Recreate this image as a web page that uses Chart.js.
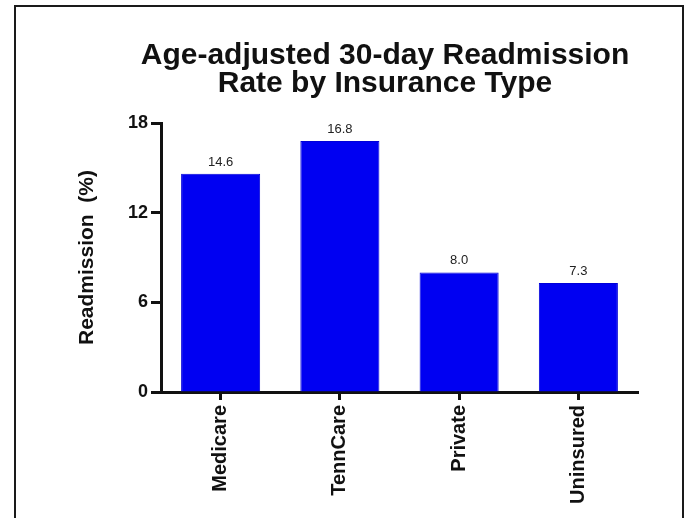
<!DOCTYPE html>
<html>
<head>
<meta charset="utf-8">
<script src="https://cdn.jsdelivr.net/npm/chart.js@4/dist/chart.umd.min.js"></script>
<style>
  html, body { margin: 0; padding: 0; background: #ffffff; }
  #wrap { position: relative; width: 688px; height: 518px; overflow: hidden; }
  #frame {
    position: absolute; left: 14px; top: 5px; width: 666px; height: 530px;
    border: 2px solid #1a1a1a; border-bottom: none; pointer-events: none;
  }
  canvas { position: absolute; left: 0; top: 0; }
</style>
</head>
<body>
<div id="wrap">
  <canvas id="chart" width="688" height="518"></canvas>
  <div id="frame"></div>
</div>
<script>
// Insurance categories and age-adjusted 30-day readmission rates (%)
const categories = ['Medicare', 'TennCare', 'Private', 'Uninsured'];
const readmissionRates = [14.6, 16.8, 8.0, 7.3];
const yTicks = [0, 6, 12, 18];
const titleLines = ['Age-adjusted 30-day Readmission', 'Rate by Insurance Type'];
const yAxisTitle = 'Readmission  (%)';

const FONT = 'Arial, "Liberation Sans", Helvetica, sans-serif';

// Prints each bar's value above it
const valueLabels = {
  id: 'valueLabels',
  afterDatasetsDraw(chart) {
    const ctx = chart.ctx;
    const meta = chart.getDatasetMeta(0);
    ctx.save();
    ctx.font = '13px ' + FONT;
    ctx.fillStyle = '#222222';
    ctx.textAlign = 'center';
    ctx.textBaseline = 'alphabetic';
    meta.data.forEach((bar, i) => {
      ctx.fillText(readmissionRates[i].toFixed(1), bar.x, bar.y - 8);
    });
    ctx.restore();
  }
};

// Centres the title block over the plot slightly left of the axis span
const titleShift = {
  id: 'titleShift',
  afterLayout(chart) {
    const t = chart.titleBlock;
    if (t) { t.left = 132; t.right = 638; }
  }
};

new Chart(document.getElementById('chart'), {
  type: 'bar',
  data: {
    labels: categories,
    datasets: [{
      data: readmissionRates,
      backgroundColor: '#0000f2',
      borderColor: '#0000d8',
      borderWidth: 1,
      barPercentage: 0.663,
      categoryPercentage: 1.0
    }]
  },
  options: {
    responsive: false,
    animation: false,
    devicePixelRatio: 1,
    layout: { padding: { left: 0, right: 50, top: 0, bottom: 0 } },
    plugins: {
      legend: { display: false },
      tooltip: { enabled: false },
      title: {
        display: true,
        fullSize: false,
        text: titleLines,
        color: '#111111',
        font: { family: FONT, size: 30, weight: 'bold', lineHeight: 0.95 },
        padding: { top: 41, bottom: 25 }
      }
    },
    scales: {
      x: {
        offset: true,
        grid: {
          offset: false,
          drawOnChartArea: false, drawTicks: true, tickLength: 8,
          tickWidth: 3, tickColor: '#111111'
        },
        border: { display: true, width: 3, color: '#111111' },
        ticks: {
          autoSkip: false, minRotation: 90, maxRotation: 90, padding: 5,
          color: '#111111',
          font: { family: FONT, size: 20, weight: 'bold' }
        },
        afterFit(scale) { scale.height = 126; }
      },
      y: {
        min: 0, max: 18,
        afterBuildTicks(scale) { scale.ticks = yTicks.map(v => ({ value: v })); },
        grid: {
          drawOnChartArea: false, drawTicks: true, tickLength: 10,
          tickWidth: 3, tickColor: '#111111'
        },
        border: { display: true, width: 3, color: '#111111' },
        ticks: {
          padding: 3, color: '#111111',
          font: { family: FONT, size: 18, weight: 'bold' }
        },
        title: {
          display: true, text: yAxisTitle, color: '#111111',
          font: { family: FONT, size: 21, weight: 'bold', lineHeight: 1.2 },
          padding: { top: 75, bottom: 0 }
        },
        afterFit(scale) { scale.width = 161; }
      }
    }
  },
  plugins: [valueLabels, titleShift]
});
</script>
</body>
</html>
